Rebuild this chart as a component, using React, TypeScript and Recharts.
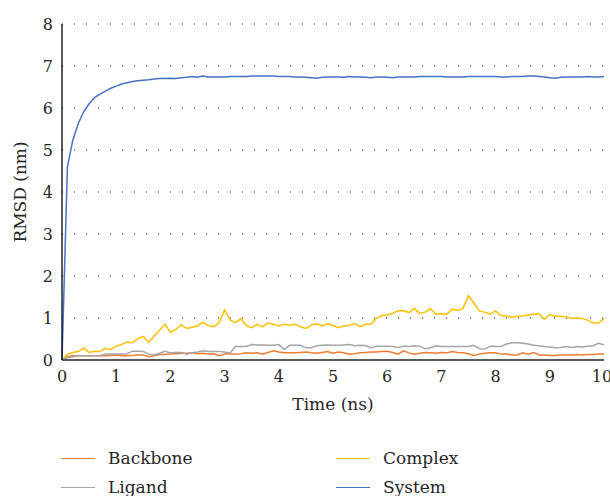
import { LineChart, Line, XAxis, YAxis, CartesianGrid, Legend } from 'recharts';

document.body.style.margin = '0';

// time axis, ns
const time = [
  0, 0.1, 0.2, 0.3, 0.4, 0.5, 0.6, 0.7, 0.8, 0.9,
  1, 1.1, 1.2, 1.3, 1.4, 1.5, 1.6, 1.7, 1.8, 1.9,
  2, 2.1, 2.2, 2.3, 2.4, 2.5, 2.6, 2.7, 2.8, 2.9,
  3, 3.1, 3.2, 3.3, 3.4, 3.5, 3.6, 3.7, 3.8, 3.9,
  4, 4.1, 4.2, 4.3, 4.4, 4.5, 4.6, 4.7, 4.8, 4.9,
  5, 5.1, 5.2, 5.3, 5.4, 5.5, 5.6, 5.7, 5.8, 5.9,
  6, 6.1, 6.2, 6.3, 6.4, 6.5, 6.6, 6.7, 6.8, 6.9,
  7, 7.1, 7.2, 7.3, 7.4, 7.5, 7.6, 7.7, 7.8, 7.9,
  8, 8.1, 8.2, 8.3, 8.4, 8.5, 8.6, 8.7, 8.8, 8.9,
  9, 9.1, 9.2, 9.3, 9.4, 9.5, 9.6, 9.7, 9.8, 9.9,
  10,
];

const backbone = [
  0, 0.08, 0.1, 0.1, 0.1, 0.1, 0.1, 0.1, 0.1, 0.11,
  0.12, 0.1, 0.1, 0.11, 0.12, 0.12, 0.08, 0.1, 0.13, 0.13,
  0.14, 0.15, 0.16, 0.16, 0.17, 0.15, 0.16, 0.14, 0.15, 0.1,
  0.14, 0.14, 0.14, 0.15, 0.17, 0.16, 0.17, 0.14, 0.18, 0.22,
  0.19, 0.17, 0.17, 0.17, 0.18, 0.19, 0.17, 0.16, 0.18, 0.2,
  0.16, 0.19, 0.17, 0.14, 0.15, 0.17, 0.18, 0.19, 0.19, 0.2,
  0.21, 0.18, 0.14, 0.22, 0.17, 0.14, 0.16, 0.18, 0.17, 0.16,
  0.18, 0.17, 0.2, 0.18, 0.17, 0.15, 0.11, 0.14, 0.16, 0.17,
  0.17, 0.14, 0.14, 0.12, 0.12, 0.17, 0.14, 0.18, 0.12, 0.12,
  0.11, 0.11, 0.12, 0.12, 0.12, 0.13, 0.12, 0.13, 0.13, 0.14,
  0.14,
];

const complex = [
  0, 0.14, 0.18, 0.2, 0.28, 0.18, 0.21, 0.2, 0.28, 0.25,
  0.33, 0.37, 0.43, 0.41, 0.51, 0.56, 0.42, 0.57, 0.71, 0.85,
  0.66, 0.73, 0.84, 0.75, 0.78, 0.81, 0.9, 0.82, 0.79, 0.89,
  1.19, 0.95, 0.89, 0.98, 0.82, 0.77, 0.85, 0.79, 0.88, 0.85,
  0.81, 0.85, 0.83, 0.85, 0.79, 0.75, 0.83, 0.86, 0.81, 0.86,
  0.82, 0.77, 0.81, 0.82, 0.87, 0.79, 0.85, 0.85, 0.99, 1.06,
  1.07, 1.11, 1.17, 1.18, 1.13, 1.23, 1.11, 1.14, 1.22, 1.09,
  1.1, 1.09, 1.21, 1.18, 1.23, 1.53, 1.35, 1.17, 1.14, 1.09,
  1.17, 1.06, 1.05, 1.02, 1.04, 1.05, 1.07, 1.09, 1.1, 0.97,
  1.08, 1.04, 1.04, 1.03, 0.99, 1.0, 0.99, 0.95, 0.88, 0.88,
  0.98,
];

const ligand = [
  0, 0.06, 0.08, 0.1, 0.1, 0.1, 0.1, 0.1, 0.14, 0.14,
  0.14, 0.14, 0.15, 0.21, 0.21, 0.2, 0.14, 0.12, 0.16, 0.21,
  0.17, 0.18, 0.18, 0.14, 0.17, 0.19, 0.22, 0.2, 0.2, 0.2,
  0.19, 0.16, 0.32, 0.32, 0.32, 0.37, 0.36, 0.36, 0.35, 0.35,
  0.37, 0.25, 0.35, 0.35, 0.35, 0.29, 0.29, 0.34, 0.35, 0.36,
  0.35, 0.35, 0.36, 0.37, 0.34, 0.35, 0.34, 0.29, 0.33, 0.33,
  0.33, 0.32, 0.3, 0.33, 0.32, 0.34, 0.33, 0.27, 0.29, 0.34,
  0.32, 0.32, 0.32, 0.32, 0.32, 0.32, 0.35, 0.27, 0.26, 0.33,
  0.32, 0.32, 0.38, 0.41, 0.41, 0.4, 0.38, 0.35, 0.34, 0.32,
  0.31, 0.29, 0.3, 0.32, 0.3, 0.32, 0.31, 0.33, 0.34, 0.4,
  0.36,
];

const system = [
  0, 4.6, 5.24, 5.63, 5.91, 6.1, 6.25, 6.33, 6.4, 6.47,
  6.52, 6.57, 6.6, 6.63, 6.65, 6.66, 6.67, 6.69, 6.7, 6.7,
  6.71, 6.7, 6.72, 6.73, 6.75, 6.73, 6.76, 6.74, 6.74, 6.74,
  6.74, 6.75, 6.75, 6.75, 6.75, 6.76, 6.76, 6.76, 6.76, 6.76,
  6.75, 6.75, 6.75, 6.74, 6.74, 6.73, 6.72, 6.71, 6.73, 6.74,
  6.74, 6.74, 6.73, 6.75, 6.74, 6.74, 6.73, 6.72, 6.74, 6.74,
  6.73, 6.72, 6.74, 6.74, 6.74, 6.74, 6.75, 6.75, 6.75, 6.75,
  6.75, 6.74, 6.74, 6.74, 6.74, 6.75, 6.75, 6.75, 6.75, 6.75,
  6.75, 6.74, 6.74, 6.75, 6.75, 6.75, 6.76, 6.76, 6.75, 6.74,
  6.72, 6.71, 6.73, 6.74, 6.74, 6.74, 6.74, 6.75, 6.74, 6.74,
  6.75,
];

const xTicks = [0, 1, 2, 3, 4, 5, 6, 7, 8, 9, 10];
const yTicks = [0, 1, 2, 3, 4, 5, 6, 7, 8];

const series = [
  { key: 'Backbone', color: '#ED7D31' },
  { key: 'Complex', color: '#FFC000' },
  { key: 'Ligand', color: '#A5A5A5' },
  { key: 'System', color: '#4472C4' },
];

const chartData = time.map((t, i) => ({
  time: t,
  Backbone: backbone[i],
  Complex: complex[i],
  Ligand: ligand[i],
  System: system[i],
}));

const font = 'DejaVu Serif, serif';
const textColor = '#262626';
const legendColX = [61, 336];

const renderLegend = (props: any) => {
  const items = props.payload ?? [];
  return (
    <div style={{ position: 'relative', width: 610, height: 52, fontFamily: font, fontSize: 17, color: textColor }}>
      {items.map((item: any, i: number) => (
        <div
          key={item.value}
          style={{
            position: 'absolute',
            left: legendColX[i % 2],
            top: Math.floor(i / 2) * 29,
            height: 28,
            display: 'flex',
            alignItems: 'center',
            whiteSpace: 'nowrap',
          }}
        >
          <span style={{ display: 'inline-block', width: 34, borderTop: `1.5px solid ${item.color}`, marginRight: 13 }} />
          <span>{item.value}</span>
        </div>
      ))}
    </div>
  );
};

export default function App() {
  return (
    <LineChart width={610} height={496} data={chartData} margin={{ top: 24, right: 6, bottom: 0, left: 0 }}>
      <CartesianGrid vertical={false} stroke="#595959" strokeWidth={1.3} strokeDasharray="1 11" />
      <XAxis
        dataKey="time"
        type="number"
        domain={[0, 10]}
        ticks={xTicks}
        height={84}
        tickLine={false}
        tickSize={0}
        tickMargin={11}
        axisLine={{ stroke: '#595959', strokeWidth: 2 }}
        tick={{ fill: textColor, fontSize: 16, fontFamily: font }}
        label={{ value: 'Time (ns)', position: 'insideTop', offset: 38, fill: textColor, fontSize: 17, fontFamily: font }}
      />
      <YAxis
        type="number"
        domain={[0, 8]}
        ticks={yTicks}
        width={62}
        tickLine={false}
        tickSize={0}
        tickMargin={9}
        axisLine={{ stroke: '#000000', strokeWidth: 1.3 }}
        tick={{ fill: textColor, fontSize: 16, fontFamily: font }}
        label={{
          value: 'RMSD (nm)',
          angle: -90,
          position: 'insideLeft',
          offset: 20,
          fill: textColor,
          fontSize: 17,
          fontFamily: font,
          style: { textAnchor: 'middle' },
        }}
      />
      <Legend verticalAlign="bottom" wrapperStyle={{ left: 0, bottom: 0 }} content={renderLegend} />
      {series.map((s) => (
        <Line
          key={s.key}
          type="linear"
          dataKey={s.key}
          name={s.key}
          stroke={s.color}
          strokeWidth={1.5}
          dot={false}
          activeDot={false}
          isAnimationActive={false}
        />
      ))}
    </LineChart>
  );
}
